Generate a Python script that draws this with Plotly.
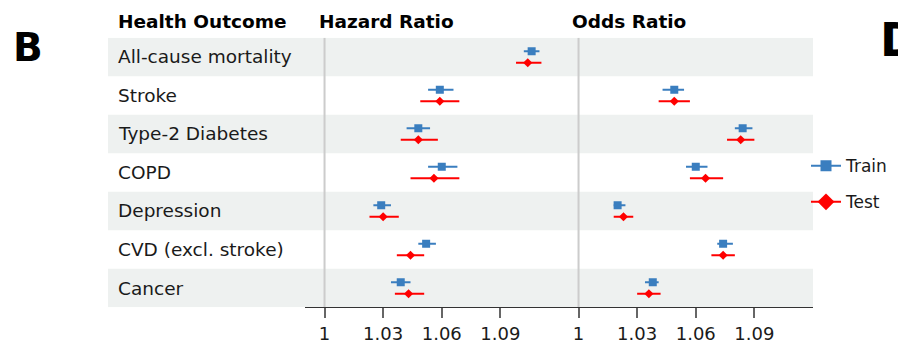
import plotly.graph_objects as go

# Health outcomes (top to bottom)
outcomes = ["All-cause mortality", "Stroke", "Type-2 Diabetes", "COPD",
            "Depression", "CVD (excl. stroke)", "Cancer"]

# Hazard ratios with 95% CI
hr_train = [1.106, 1.059, 1.048, 1.060, 1.029, 1.052, 1.039]
hr_train_lo = [1.102, 1.053, 1.042, 1.053, 1.025, 1.048, 1.034]
hr_train_hi = [1.110, 1.066, 1.054, 1.068, 1.034, 1.057, 1.044]
hr_test = [1.104, 1.059, 1.048, 1.056, 1.030, 1.044, 1.043]
hr_test_lo = [1.098, 1.049, 1.039, 1.044, 1.023, 1.037, 1.036]
hr_test_hi = [1.111, 1.069, 1.058, 1.069, 1.038, 1.051, 1.051]

# Odds ratios with 95% CI (not estimated for all-cause mortality)
or_train = [None, 1.049, 1.084, 1.060, 1.020, 1.074, 1.038]
or_train_lo = [None, 1.043, 1.080, 1.055, 1.018, 1.071, 1.034]
or_train_hi = [None, 1.054, 1.089, 1.066, 1.024, 1.079, 1.041]
or_test = [None, 1.049, 1.083, 1.065, 1.023, 1.074, 1.036]
or_test_lo = [None, 1.041, 1.076, 1.057, 1.018, 1.068, 1.030]
or_test_hi = [None, 1.057, 1.090, 1.074, 1.028, 1.080, 1.042]

tick_vals = [1, 1.03, 1.06, 1.09]
tick_text = ["1", "1.03", "1.06", "1.09"]

BLUE = "#3a7ebf"
RED = "#ff0000"
FONT = "DejaVu Sans"
W, H = 898, 344


def px_x(p):
    return p / W


def px_y(p):
    return 1 - p / H


def err(vals, lo, hi):
    plus = [None if v is None else h - v for v, h in zip(vals, hi)]
    minus = [None if v is None else v - l for v, l in zip(vals, lo)]
    return plus, minus


rows = list(range(len(outcomes)))
y_train = [r - 0.15 for r in rows]
y_test = [r + 0.15 for r in rows]

fig = go.Figure()

series = [
    ("x", hr_train, hr_train_lo, hr_train_hi, y_train, BLUE, "square", 8),
    ("x", hr_test, hr_test_lo, hr_test_hi, y_test, RED, "diamond", 7),
    ("x2", or_train, or_train_lo, or_train_hi, y_train, BLUE, "square", 8),
    ("x2", or_test, or_test_lo, or_test_hi, y_test, RED, "diamond", 7),
]
for xa, vals, lo, hi, ys, col, sym, size in series:
    plus, minus = err(vals, lo, hi)
    fig.add_trace(go.Scatter(
        x=vals, y=ys, xaxis=xa, yaxis="y", mode="markers",
        marker=dict(color=col, symbol=sym, size=size, line=dict(width=0)),
        error_x=dict(type="data", array=plus, arrayminus=minus,
                     color=col, thickness=2, width=0),
        showlegend=False, hoverinfo="skip",
    ))

# Legend entries (line through marker)
for name, col, sym, size, grp in [("Train", BLUE, "square", 11, "a"),
                                  ("Test", RED, "diamond", 13, "b")]:
    fig.add_trace(go.Scatter(
        x=[None], y=[None], mode="lines+markers", name=name, legendgroup=grp,
        marker=dict(color=col, symbol=sym, size=size),
        line=dict(color=col, width=2),
    ))

shapes = []
# Alternating row bands across label column and both panels
for r in rows:
    if r % 2 == 0:
        shapes.append(dict(type="rect", xref="paper", yref="y",
                           x0=px_x(108), x1=px_x(813), y0=r - 0.5, y1=r + 0.5,
                           fillcolor="#eef1f0", line=dict(width=0), layer="below"))
# Reference lines at ratio = 1
for xr in ["x", "x2"]:
    shapes.append(dict(type="line", xref=xr, yref="y", x0=1, x1=1,
                       y0=-0.5, y1=6.5, line=dict(color="#cccccc", width=2),
                       layer="below"))

annotations = []
for r, name in zip(rows, outcomes):
    annotations.append(dict(text=name, xref="paper", yref="y", x=px_x(116), y=r,
                            xanchor="left", yanchor="middle", showarrow=False,
                            font=dict(family=FONT, size=18.5, color="#1a1a1a")))
for txt, xp in [("Health Outcome", 116), ("Hazard Ratio", 317), ("Odds Ratio", 570)]:
    annotations.append(dict(text=f"<b>{txt}</b>", xref="paper", yref="paper",
                            x=px_x(xp), y=px_y(22), xanchor="left", yanchor="middle",
                            showarrow=False, font=dict(family=FONT, size=18.5, color="black")))
annotations.append(dict(text="<b>B</b>", xref="paper", yref="paper", x=px_x(11),
                        y=px_y(48), xanchor="left", yanchor="middle", showarrow=False,
                        font=dict(family=FONT, size=39, color="black")))
annotations.append(dict(text="<b>D</b>", xref="paper", yref="paper", x=px_x(878),
                        y=px_y(40), xanchor="left", yanchor="middle", showarrow=False,
                        font=dict(family=FONT, size=46, color="black")))

axis_common = dict(range=[0.99, 1.12], tickvals=tick_vals, ticktext=tick_text,
                   showline=True, linecolor="#333333", linewidth=1.2,
                   ticks="outside", ticklen=10, tickwidth=1.5, tickcolor="#666666",
                   showgrid=False, zeroline=False,
                   tickfont=dict(family=FONT, size=18, color="#1a1a1a"),
                   anchor="y", fixedrange=True)

fig.update_layout(
    width=W, height=H,
    margin=dict(l=0, r=0, t=0, b=0),
    paper_bgcolor="white", plot_bgcolor="rgba(0,0,0,0)",
    xaxis=dict(domain=[px_x(305), px_x(559)], **axis_common),
    xaxis2=dict(domain=[px_x(559), px_x(813)], **axis_common),
    yaxis=dict(domain=[px_y(310), px_y(38)], range=[6.5, -0.5], visible=False,
               fixedrange=True),
    shapes=shapes,
    annotations=annotations,
    showlegend=True,
    legend=dict(x=px_x(806), y=px_y(149.5), xanchor="left", yanchor="top",
                bgcolor="rgba(0,0,0,0)", tracegroupgap=11, traceorder="grouped",
                font=dict(family=FONT, size=17, color="#1a1a1a"),
                itemwidth=30),
    font=dict(family=FONT),
)

fig.write_html("out.html")
